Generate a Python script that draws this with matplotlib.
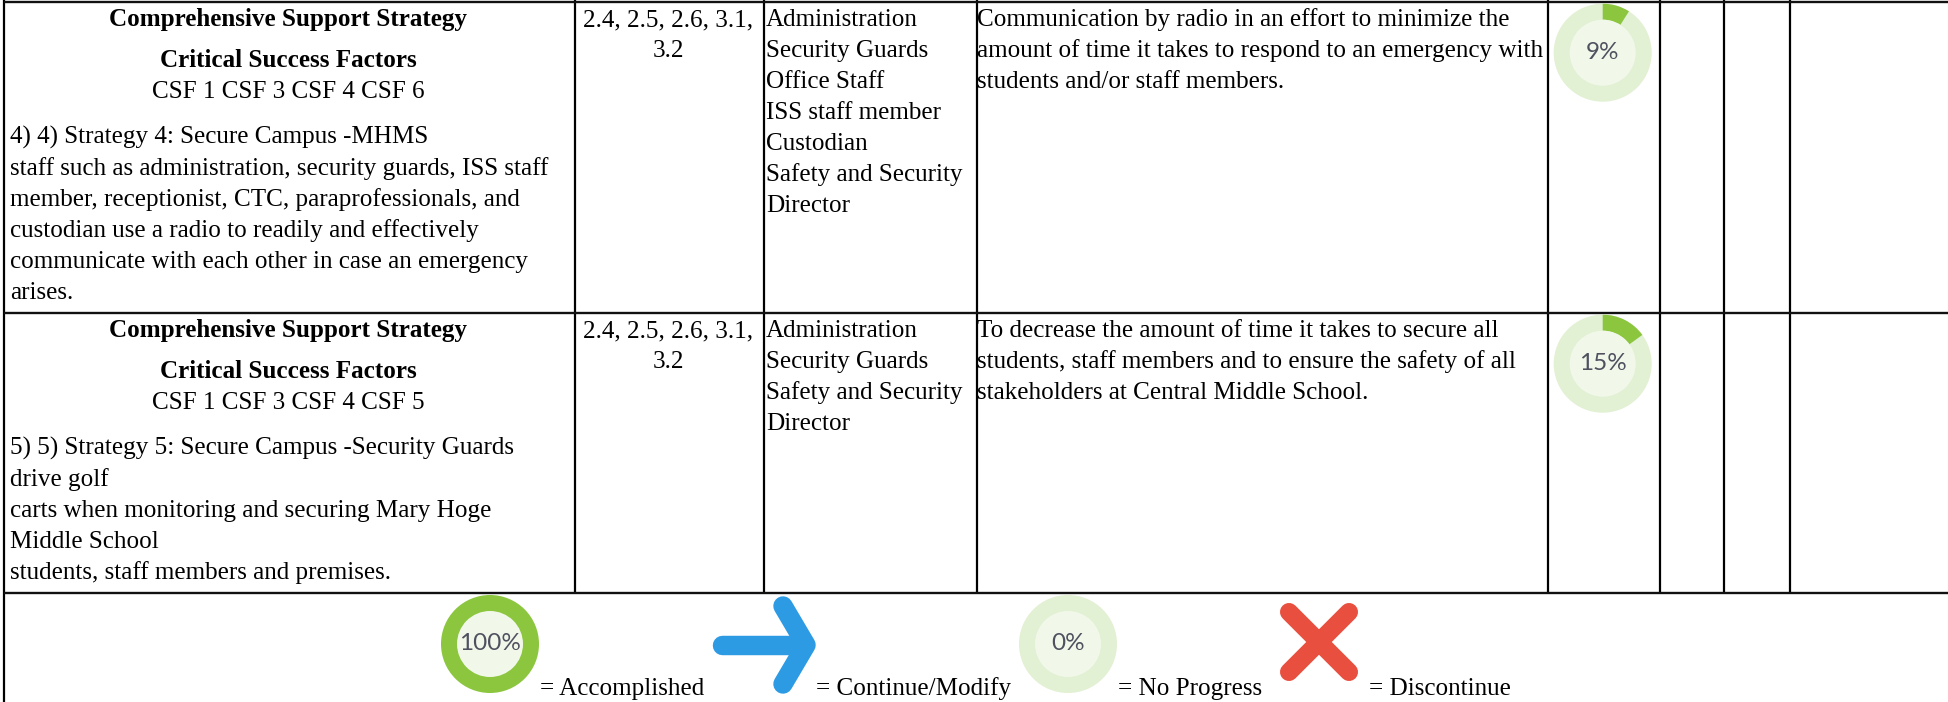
import matplotlib
matplotlib.use("Agg")
import matplotlib.pyplot as plt
from matplotlib.patches import Wedge, Circle

SERIF = "Liberation Serif"
W, H = 1949, 702

col_x = [4, 575, 764, 977, 1548, 1660, 1724, 1790]
row_y = [1.5, 313, 593]

heading_main = "Comprehensive Support Strategy"
heading_csf = "Critical Success Factors"
row_csf = ["CSF 1 CSF 3 CSF 4 CSF 6", "CSF 1 CSF 3 CSF 4 CSF 5"]
row_strategy = [
    ["4) 4) Strategy 4: Secure Campus -MHMS",
     "staff such as administration, security guards, ISS staff",
     "member, receptionist, CTC, paraprofessionals, and",
     "custodian use a radio to readily and effectively",
     "communicate with each other in case an emergency",
     "arises."],
    ["5) 5) Strategy 5: Secure Campus -Security Guards",
     "drive golf",
     "carts when monitoring and securing Mary Hoge",
     "Middle School",
     "students, staff members and premises."],
]
row_codes = [["2.4, 2.5, 2.6, 3.1,", "3.2"], ["2.4, 2.5, 2.6, 3.1,", "3.2"]]
row_staff = [
    ["Administration", "Security Guards", "Office Staff", "ISS staff member",
     "Custodian", "Safety and Security", "Director"],
    ["Administration", "Security Guards", "Safety and Security", "Director"],
]
row_outcome = [
    ["Communication by radio in an effort to minimize the",
     "amount of time it takes to respond to an emergency with",
     "students and/or staff members."],
    ["To decrease the amount of time it takes to secure all",
     "students, staff members and to ensure the safety of all",
     "stakeholders at Central Middle School."],
]
row_progress = [9, 15]
legend_progress = [100, 0]
legend_labels = ["= Accomplished", "= Continue/Modify", "= No Progress", "= Discontinue"]

GREEN, PALE, INNER, LABEL = "#8CC63F", "#E2F0D3", "#F1F8EA", "#50505F"
BLUE, RED = "#2D9BE4", "#E94F3E"
FS = 18.1
LEAD = 31

fig = plt.figure(figsize=(W / 100, H / 100), dpi=100, facecolor="white")
ax = fig.add_axes([0, 0, 1, 1])
ax.set_xlim(0, W)
ax.set_ylim(H, 0)
ax.axis("off")


def txt(x, y, s, ha="left", weight="normal", size=FS):
    ax.text(x, y + 1, s, ha=ha, va="baseline", family=SERIF, fontsize=size,
            fontweight=weight, color="black")


def donut(cx, cy, value):
    full = value >= 100
    ax.add_patch(Circle((cx, cy), 49, fc=GREEN if full else PALE, ec="none", zorder=2))
    if 0 < value < 100:
        # y axis is inverted, so angles run clockwise on screen
        ax.add_patch(Wedge((cx, cy), 49, -90, -90 + 3.6 * value, width=16,
                           fc=GREEN, ec="none", zorder=3))
    ax.add_patch(Circle((cx, cy), 33, fc=INNER, ec="none", zorder=4))
    ax.text(cx, cy, f"{value}%", ha="center", va="center", family="Lato",
            fontsize=17.5, color=LABEL, zorder=5)


# Grid
for x in col_x[1:]:
    ax.plot([x, x], [0, row_y[2]], color="black", lw=1.6, solid_capstyle="butt")
ax.plot([col_x[0], col_x[0]], [0, H], color="black", lw=1.6, solid_capstyle="butt")
for y in row_y:
    ax.plot([col_x[0], W], [y, y], color="#111111", lw=1.7, solid_capstyle="butt")

# Rows
row_offset = [0, 311]
donut_y = [52.7, 363.7]
for i, dy in enumerate(row_offset):
    cx0 = (col_x[0] + col_x[1]) / 2 - 1
    txt(cx0, 25 + dy, heading_main, ha="center", weight="bold")
    txt(cx0, 66 + dy, heading_csf, ha="center", weight="bold")
    txt(cx0, 97 + dy, row_csf[i], ha="center")
    for j, s in enumerate(row_strategy[i]):
        txt(10, 143 + dy + j * LEAD, s)
    for j, s in enumerate(row_codes[i]):
        txt((col_x[1] + col_x[2]) / 2 - 1.5, 25 + dy + j * LEAD, s, ha="center")
    for j, s in enumerate(row_staff[i]):
        txt(766, 25 + dy + j * LEAD, s)
    for j, s in enumerate(row_outcome[i]):
        txt(977, 25 + dy + j * LEAD, s)
    donut(1602.7, donut_y[i], row_progress[i])

# Legend
donut(490, 644, legend_progress[0])
donut(1068, 644, legend_progress[1])

arrow_kw = dict(color=BLUE, lw=14, solid_capstyle="round", solid_joinstyle="round", zorder=2)
ax.plot([722, 804], [645, 645], **arrow_kw)
ax.plot([783, 806, 783], [606, 645, 684], **arrow_kw)

cross_kw = dict(color=RED, lw=13, solid_capstyle="round", zorder=2)
ax.plot([1289, 1349], [612, 672], **cross_kw)
ax.plot([1349, 1289], [612, 672], **cross_kw)

for x, s in zip([540, 816, 1118, 1369], legend_labels):
    txt(x, 694, s)

fig.savefig("out.png", dpi=100, facecolor="white")
